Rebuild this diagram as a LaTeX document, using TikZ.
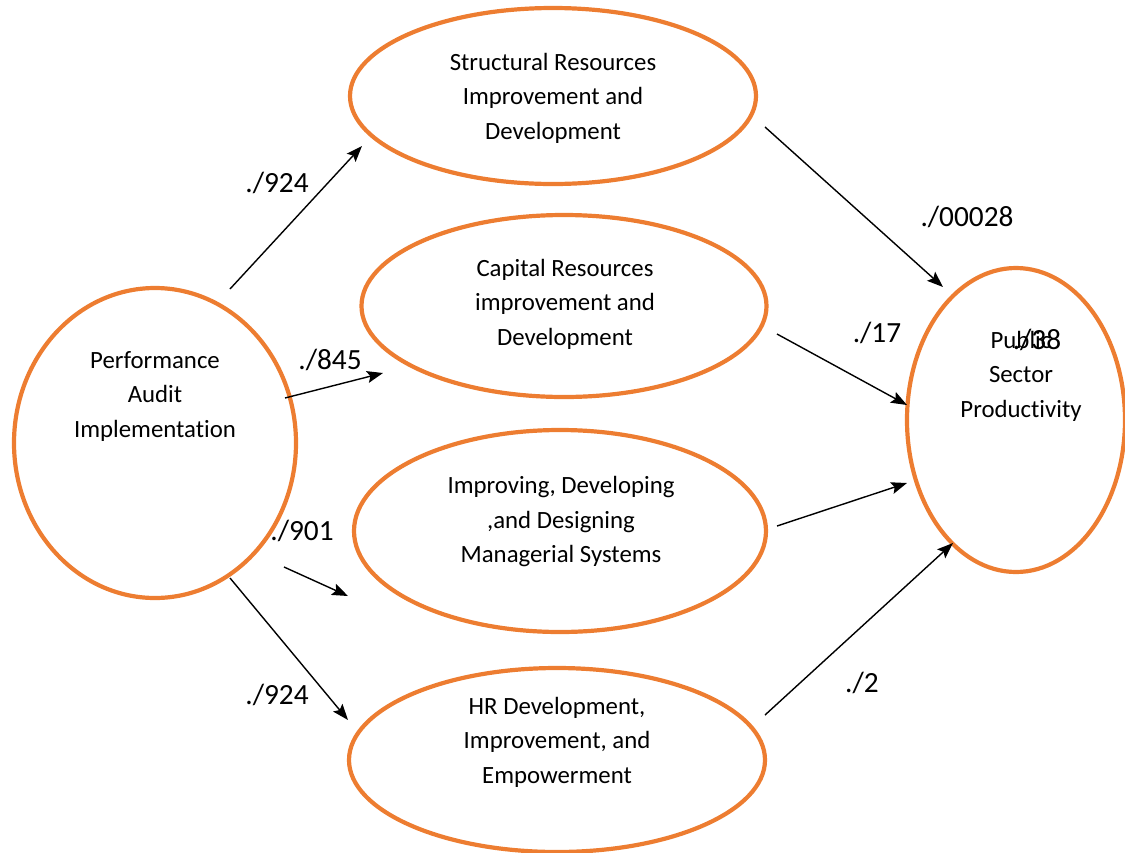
\documentclass[tikz,border=0pt]{standalone}
\usepackage{fontspec}
\setmainfont[Ligatures={NoCommon}]{Carlito}
\usetikzlibrary{arrows.meta,shapes.geometric}
\definecolor{ringorange}{HTML}{ED7D31}
\begin{document}
\begin{tikzpicture}[x=1pt,y=-1pt,
  ring/.style={draw=ringorange,line width=4.2pt,ellipse,inner sep=0pt},
  boxtext/.style={align=center,font=\fontsize{24.8}{34.5}\selectfont,inner sep=0pt},
  coef/.style={font=\fontsize{29.3}{30}\selectfont,inner sep=0pt},
  link/.style={line width=1.4pt,-{Stealth[length=16pt,width=12pt,inset=3pt]}}]
\useasboundingbox (0,0) rectangle (1125,852);

% ellipses
\node[ring,minimum width=282pt,minimum height=310pt] (audit) at (155,443) {};
\node[ring,minimum width=406pt,minimum height=176pt] (struct) at (553,96) {};
\node[ring,minimum width=405pt,minimum height=182pt] (capital) at (564,306) {};
\node[ring,minimum width=412pt,minimum height=202pt] (manage) at (560,531) {};
\node[ring,minimum width=416pt,minimum height=184pt] (hr) at (557,760) {};
\node[ring,minimum width=218pt,minimum height=304pt] (prod) at (1016,420) {};

% ellipse texts
\node[boxtext] (tAudit) at (155,396) {Performance\\Audit\\Implementation};
\node[boxtext] (tStruct) at (553,98) {Structural Resources\\Improvement and\\Development};
\node[boxtext] (tCapital) at (565,304) {Capital Resources\\improvement and\\Development};
\node[boxtext] (tManage) at (561,522) {Improving, Developing\\,and Designing\\Managerial Systems};
\node[boxtext] (tHr) at (557,742) {HR Development,\\Improvement, and\\Empowerment};
\node[boxtext] (tProd) at (1021,376) {Public\\Sector\\Productivity};

% arrow end points
\coordinate (a1s) at (230,289);  \coordinate (a1e) at (362,146);
\coordinate (a2s) at (285,398);  \coordinate (a2e) at (383,373);
\coordinate (a3s) at (284,567);  \coordinate (a3e) at (348,596);
\coordinate (a4s) at (230,578);  \coordinate (a4e) at (348,720);
\coordinate (b1s) at (765,127);  \coordinate (b1e) at (943,287);
\coordinate (b2s) at (777,334);  \coordinate (b2e) at (907,405);
\coordinate (b3s) at (777,526);  \coordinate (b3e) at (907,483);
\coordinate (b4s) at (765,715);  \coordinate (b4e) at (953,543);

\draw[link] (a1s) -- (a1e);
\draw[link] (a2s) -- (a2e);
\draw[link] (a3s) -- (a3e);
\draw[link] (a4s) -- (a4e);
\draw[link] (b1s) -- (b1e);
\draw[link] (b2s) -- (b2e);
\draw[link] (b3s) -- (b3e);
\draw[link] (b4s) -- (b4e);

% path coefficients
\node[coef] (c1) at (277,183) {./924};
\node[coef] (c2) at (330,360) {./845};
\node[coef] (c3) at (302,531) {./901};
\node[coef] (c4) at (277,695) {./924};
\node[coef] (c5) at (967,217) {./00028};
\node[coef] (c6) at (877,333) {./17};
\node[coef] (c7) at (862,683) {./2};
\node[coef] (c8) at (1037,340) {./38};
\end{tikzpicture}
\end{document}
